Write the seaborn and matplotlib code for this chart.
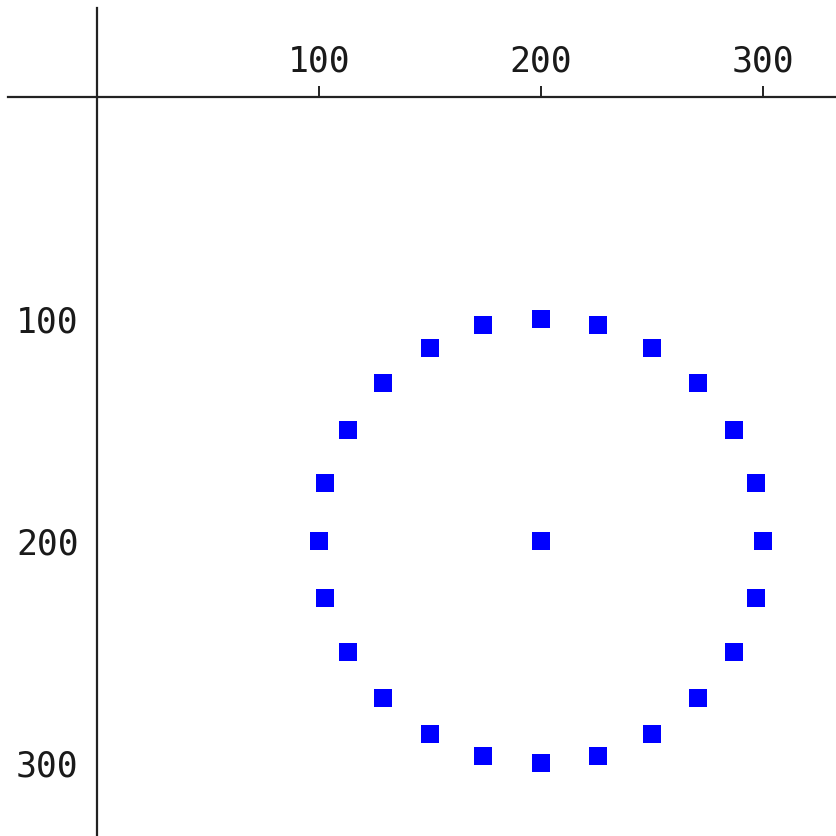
import matplotlib
matplotlib.use('Agg')
import matplotlib.pyplot as plt
import seaborn as sns
import pandas as pd

# points (ring of 24 + the centre)
xs = [200, 226, 250, 271, 287, 297, 300, 297, 287, 271, 250, 226,
      200, 174, 150, 129, 113, 103, 100, 103, 113, 129, 150, 174, 200]
ys = [100, 103, 113, 129, 150, 174, 200, 226, 250, 271, 287, 297,
      300, 297, 287, 271, 250, 226, 200, 174, 150, 129, 113, 103, 200]
ticks = [100, 200, 300]

df = pd.DataFrame({'x': xs, 'y': ys})

sns.set_style('white')
plt.rcParams['font.family'] = ['DejaVu Sans Mono']

fig = plt.figure(figsize=(8.36, 8.36), dpi=100)
ax = fig.add_axes([8 / 836, 0, 828 / 836, 828 / 836])

sns.scatterplot(data=df, x='x', y='y', marker='s', color='blue', s=150,
                linewidth=0, ax=ax)

ax.set_xlim(-40, 333)
ax.set_ylim(333, -40)

# axes cross at the origin, x axis on top
for side in ['right', 'bottom']:
    ax.spines[side].set_visible(False)
ax.spines['left'].set_position(('data', 0))
ax.spines['top'].set_position(('data', 0))
for side in ['left', 'top']:
    ax.spines[side].set_color('#222222')
    ax.spines[side].set_linewidth(1.6)

ax.xaxis.tick_top()
ax.set_xticks(ticks)
ax.set_yticks(ticks)
ax.tick_params(axis='both', direction='out', length=8, width=1.4,
               color='#222222', labelsize=25, labelcolor='#1a1a1a')
ax.tick_params(axis='x', pad=5)
ax.tick_params(axis='y', pad=5)
ax.set_xlabel('')
ax.set_ylabel('')

fig.savefig('out.png', dpi=100)
